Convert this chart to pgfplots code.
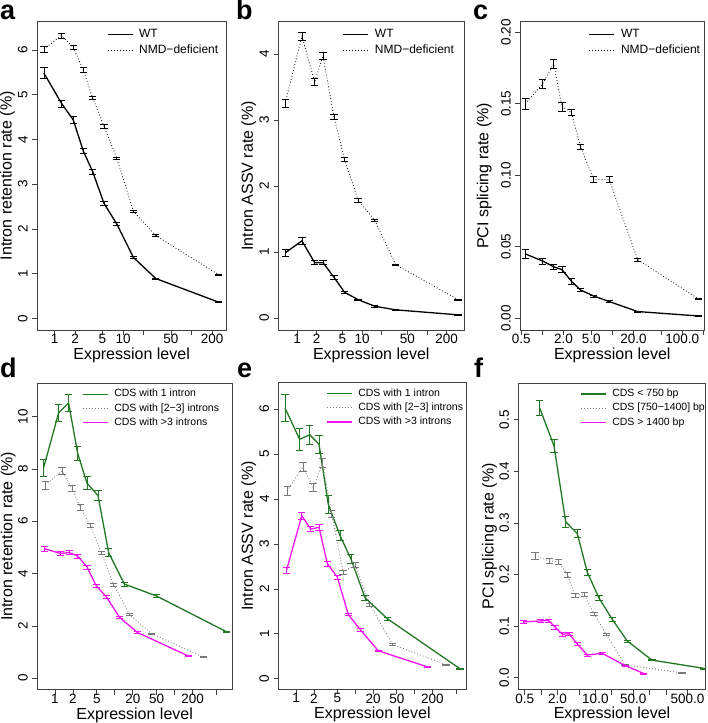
\documentclass[border=0pt]{standalone}
\usepackage{fontspec}
\setmainfont{Liberation Sans}
\usepackage{pgfplots}
\pgfplotsset{compat=1.18}
\definecolor{rgreen}{RGB}{34,120,34}
\definecolor{rmag}{RGB}{240,20,240}
\definecolor{rgray}{RGB}{120,120,120}
\newcommand\tickfont{\fontsize{13.5}{13.5}\selectfont}
\newcommand\labfont{\fontsize{16}{16}\selectfont}
\newcommand\legfontA{\fontsize{12}{12}\selectfont}
\newcommand\legfontB{\fontsize{10.5}{10.5}\selectfont}
\newcommand\panfont{\fontsize{27}{27}\selectfont\bfseries}
\pgfplotsset{
  legend image code/.code={\draw[#1] (0pt,0pt) -- (25pt,0pt);},
  every axis/.append style={
    scale only axis,
    axis line style={draw=black!75, line width=0.7pt},
    tick style={draw=black!75, line width=0.6pt},
    tick align=outside, major tick length=5pt,
    xtick pos=left, ytick pos=left,
    xticklabel style={font=\tickfont, inner sep=0pt, anchor=north, yshift=1pt},
    yticklabel style={font=\tickfont, rotate=90, anchor=south, inner sep=4.4pt},
    xlabel style={font=\labfont, at={(axis description cs:0.5,0)}, anchor=base, yshift=-29.3pt, inner sep=0pt},
    ylabel style={font=\labfont, anchor=base, inner sep=0pt},
    legend cell align=left,
    legend style={draw=none, fill=none, anchor=north west, inner sep=0pt, outer sep=0pt, column sep=6pt},
  },
}
\tikzset{
  wt/.style={black, solid, line width=1.3pt},
  nmd/.style={black, line width=0.8pt, dash pattern=on 0.8pt off 2.2pt},
  sgreen/.style={rgreen, solid, line width=1.3pt},
  sgray/.style={rgray, line width=0.9pt, dash pattern=on 0.8pt off 2.2pt},
  smag/.style={rmag, solid, line width=1.3pt},
}
\begin{document}
\begin{tikzpicture}
\useasboundingbox (0pt,0pt) rectangle (708pt,723pt);
% ---------------- a
\begin{axis}[xmode=log, anchor=south west, at={(37.2pt,393pt)}, width=188.8pt, height=308.3pt,
  xmin=0.558, xmax=319, ymin=-0.26, ymax=6.63,
  xtick={1,2,5,10,20,50,100,200}, xticklabels={1,2,5,10,,50,,200},
  ytick={0,1,2,3,4,5,6}, yticklabels={0,1,2,3,4,5,6},
  xlabel={Expression level},
  ylabel={Intron retention rate (\%)}, ylabel style={at={(axis description cs:-0.1353,0.5)}},
  legend style={font=\legfontA, row sep=5pt, nodes={inner sep=0pt, text height=8.6pt, text depth=2.4pt}, at={(axis description cs:0.369,0.977)}}]
\addplot[wt, mark=none, error bars/.cd, y dir=both, y explicit, error bar style={solid, line width=0.6pt}, error mark options={solid, rotate=90, mark size=3.6pt, line width=0.6pt}] table[x index=0,y index=1,y error index=2]{
0.70 5.48 0.12
1.27 4.80 0.08
1.87 4.44 0.07
2.63 3.74 0.06
3.60 3.28 0.05
5.27 2.57 0.04
8.1 2.11 0.03
14.2 1.36 0.02
30.1 0.89 0.01
246 0.365 0.01
};
\addlegendentry{WT}
\addplot[nmd, mark=none, error bars/.cd, y dir=both, y explicit, error bar style={solid, line width=0.6pt}, error mark options={solid, rotate=90, mark size=3.6pt, line width=0.6pt}] table[x index=0,y index=1,y error index=2]{
0.70 6.02 0.07
1.27 6.32 0.06
1.87 6.06 0.05
2.63 5.55 0.05
3.60 4.93 0.04
5.27 4.29 0.04
8.1 3.58 0.03
14.2 2.39 0.03
30.1 1.85 0.02
246 0.98 0.01
};
\addlegendentry{NMD−deficient}
\end{axis}
% ---------------- b
\begin{axis}[xmode=log, anchor=south west, at={(278.5pt,393pt)}, width=185.5pt, height=308.3pt,
  xmin=0.519, xmax=371, ymin=-0.18, ymax=4.49,
  xtick={1,2,5,10,20,50,100,200}, xticklabels={1,2,5,10,,50,,200},
  ytick={0,1,2,3,4}, yticklabels={0,1,2,3,4},
  xlabel={Expression level},
  ylabel={Intron ASSV rate (\%)}, ylabel style={at={(axis description cs:-0.1375,0.5)}},
  legend style={font=\legfontA, row sep=5pt, nodes={inner sep=0pt, text height=8.6pt, text depth=2.4pt}, at={(axis description cs:0.346,0.977)}}]
\addplot[wt, mark=none, error bars/.cd, y dir=both, y explicit, error bar style={solid, line width=0.6pt}, error mark options={solid, rotate=90, mark size=3.6pt, line width=0.6pt}] table[x index=0,y index=1,y error index=2]{
0.66 0.99 0.05
1.19 1.17 0.05
1.87 0.84 0.03
2.51 0.84 0.03
3.7 0.62 0.03
5.4 0.39 0.02
8.7 0.28 0.01
15.7 0.18 0.01
33 0.125 0.005
300 0.05 0.003
};
\addlegendentry{WT}
\addplot[nmd, mark=none, error bars/.cd, y dir=both, y explicit, error bar style={solid, line width=0.6pt}, error mark options={solid, rotate=90, mark size=3.6pt, line width=0.6pt}] table[x index=0,y index=1,y error index=2]{
0.66 3.26 0.06
1.19 4.27 0.06
1.87 3.58 0.05
2.51 3.97 0.05
3.7 3.05 0.04
5.4 2.40 0.03
8.7 1.79 0.03
15.7 1.48 0.02
33 0.81 0.01
300 0.28 0.01
};
\addlegendentry{NMD−deficient}
\end{axis}
% ---------------- c
\begin{axis}[xmode=log, anchor=south west, at={(520.3pt,393pt)}, width=184pt, height=308.3pt,
  xmin=0.483, xmax=206, ymin=-0.0082, ymax=0.2074,
  xtick={0.5,1,2,5,10,20,50,100,200}, xticklabels={0.5,,2.0,5.0,,20.0,,100.0,},
  ytick={0,0.05,0.1,0.15,0.2}, yticklabels={0.00,0.05,0.10,0.15,0.20},
  xlabel={Expression level},
  ylabel={PCI splicing rate (\%)}, ylabel style={at={(axis description cs:-0.174,0.5)}},
  legend style={font=\legfontA, row sep=5pt, nodes={inner sep=0pt, text height=8.6pt, text depth=2.4pt}, at={(axis description cs:0.372,0.977)}}]
\addplot[wt, mark=none, error bars/.cd, y dir=both, y explicit, error bar style={solid, line width=0.6pt}, error mark options={solid, rotate=90, mark size=3.6pt, line width=0.6pt}] table[x index=0,y index=1,y error index=2]{
0.57 0.045 0.003
1.01 0.040 0.002
1.45 0.036 0.002
1.9 0.034 0.002
2.59 0.026 0.002
3.5 0.0198 0.0012
5.4 0.0156 0.0008
9.0 0.0117 0.0006
23 0.0047 0.0004
170 0.0016 0.0003
};
\addlegendentry{WT}
\addplot[nmd, mark=none, error bars/.cd, y dir=both, y explicit, error bar style={solid, line width=0.6pt}, error mark options={solid, rotate=90, mark size=3.6pt, line width=0.6pt}] table[x index=0,y index=1,y error index=2]{
0.57 0.150 0.004
1.01 0.164 0.003
1.45 0.178 0.003
1.9 0.148 0.003
2.59 0.144 0.002
3.5 0.120 0.002
5.4 0.097 0.002
9.0 0.097 0.002
23 0.041 0.001
170 0.0135 0.0005
};
\addlegendentry{NMD−deficient}
\end{axis}
% ---------------- d
\begin{axis}[xmode=log, anchor=south west, at={(37.3pt,33.3pt)}, width=194.7pt, height=306.4pt,
  xmin=0.506, xmax=912, ymin=-0.44, ymax=11.27,
  xtick={1,2,5,10,20,50,100,200,500}, xticklabels={1,2,5,,20,50,,200,},
  ytick={0,2,4,6,8,10}, yticklabels={0,2,4,6,8,10},
  xlabel={Expression level},
  ylabel={Intron retention rate (\%)}, ylabel style={at={(axis description cs:-0.128,0.5)}},
  legend style={font=\legfontB, row sep=4.5pt, nodes={inner sep=0pt, text height=7.5pt, text depth=2.2pt}, at={(axis description cs:0.2296,0.980)}}]
\addplot[sgreen, mark=none, error bars/.cd, y dir=both, y explicit, error bar style={solid, line width=0.6pt}, error mark options={solid, rotate=90, mark size=3.6pt, line width=0.6pt}] table[x index=0,y index=1,y error index=2]{
0.647 8.05 0.33
1.15 10.14 0.32
1.69 10.52 0.32
2.39 8.6 0.28
3.43 7.45 0.25
5.24 6.98 0.2
7.9 4.8 0.15
14.4 3.6 0.07
50 3.14 0.05
745 1.77 0.03
};
\addlegendentry{CDS with 1 intron}
\addplot[sgray, mark=none, error bars/.cd, y dir=both, y explicit, error bar style={solid, line width=0.6pt}, error mark options={solid, rotate=90, mark size=3.6pt, line width=0.6pt}] table[x index=0,y index=1,y error index=2]{
0.69 7.38 0.15
1.31 7.92 0.13
1.92 7.25 0.12
2.65 6.53 0.1
3.89 5.84 0.08
5.94 4.80 0.06
9.56 3.58 0.05
17.7 2.43 0.04
41 1.71 0.02
302 0.80 0.02
};
\addlegendentry{CDS with [2−3] introns}
\addplot[smag, mark=none, error bars/.cd, y dir=both, y explicit, error bar style={solid, line width=0.6pt}, error mark options={solid, rotate=90, mark size=3.6pt, line width=0.6pt}] table[x index=0,y index=1,y error index=2]{
0.663 4.95 0.1
1.23 4.77 0.08
1.73 4.80 0.08
2.39 4.67 0.08
3.43 4.25 0.08
4.9 3.53 0.07
7.2 3.11 0.06
12.1 2.32 0.05
23.8 1.75 0.04
169 0.85 0.03
};
\addlegendentry{CDS with >3 introns}
\end{axis}
% ---------------- e
\begin{axis}[xmode=log, anchor=south west, at={(278.7pt,33.6pt)}, width=187.3pt, height=306.7pt,
  xmin=0.51, xmax=736, ymin=-0.24, ymax=6.59,
  xtick={1,2,5,10,20,50,100,200,500}, xticklabels={1,2,5,,20,50,,200,},
  ytick={0,1,2,3,4,5,6}, yticklabels={0,1,2,3,4,5,6},
  xlabel={Expression level},
  ylabel={Intron ASSV rate (\%)}, ylabel style={at={(axis description cs:-0.138,0.5)}},
  legend style={font=\legfontB, row sep=4.5pt, nodes={inner sep=0pt, text height=7.5pt, text depth=2.2pt}, at={(axis description cs:0.2525,0.980)}}]
\addplot[sgreen, mark=none, error bars/.cd, y dir=both, y explicit, error bar style={solid, line width=0.6pt}, error mark options={solid, rotate=90, mark size=3.6pt, line width=0.6pt}] table[x index=0,y index=1,y error index=2]{
0.65 6.03 0.3
1.15 5.33 0.25
1.70 5.43 0.22
2.44 5.22 0.2
3.5 3.88 0.2
5.5 3.19 0.12
8.4 2.67 0.1
14.6 1.8 0.06
35 1.33 0.03
583 0.22 0.02
};
\addlegendentry{CDS with 1 intron}
\addplot[sgray, mark=none, error bars/.cd, y dir=both, y explicit, error bar style={solid, line width=0.6pt}, error mark options={solid, rotate=90, mark size=3.6pt, line width=0.6pt}] table[x index=0,y index=1,y error index=2]{
0.71 4.18 0.1
1.31 4.72 0.1
1.94 4.26 0.08
2.8 4.80 0.1
4.0 3.67 0.07
6.2 2.37 0.05
9.9 2.54 0.05
17.5 1.65 0.03
42.7 0.76 0.02
338 0.31 0.01
};
\addlegendentry{CDS with [2−3] introns}
\addplot[smag, mark=none, error bars/.cd, y dir=both, y explicit, error bar style={solid, line width=0.6pt}, error mark options={solid, rotate=90, mark size=3.6pt, line width=0.6pt}] table[x index=0,y index=1,y error index=2]{
0.69 2.41 0.07
1.25 3.63 0.08
1.77 3.33 0.06
2.44 3.37 0.06
3.37 2.56 0.06
4.97 2.26 0.05
7.6 1.43 0.03
12.3 1.08 0.03
24.4 0.62 0.02
166 0.26 0.01
};
\addlegendentry{CDS with >3 introns}
\end{axis}
% ---------------- f
\begin{axis}[xmode=log, anchor=south west, at={(518.7pt,33.5pt)}, width=186.6pt, height=306.5pt,
  xmin=0.387, xmax=1059, ymin=-0.023, ymax=0.571,
  xtick={0.5,1,2,5,10,20,50,100,200,500}, xticklabels={0.5,,2.0,,10.0,,50.0,,,500.0},
  ytick={0,0.1,0.2,0.3,0.4,0.5}, yticklabels={0.0,0.1,0.2,0.3,0.4,0.5},
  xlabel={Expression level},
  ylabel={PCI splicing rate (\%)}, ylabel style={at={(axis description cs:-0.135,0.5)}},
  legend style={font=\legfontB, row sep=4.5pt, nodes={inner sep=0pt, text height=7.5pt, text depth=2.2pt}, at={(axis description cs:0.3285,0.980)}}]
\addplot[sgreen, mark=none, error bars/.cd, y dir=both, y explicit, error bar style={solid, line width=0.6pt}, error mark options={solid, rotate=90, mark size=3.6pt, line width=0.6pt}] table[x index=0,y index=1,y error index=2]{
0.94 0.523 0.015
1.73 0.449 0.012
2.84 0.302 0.01
4.66 0.279 0.008
7.1 0.204 0.006
11.7 0.154 0.005
20.5 0.113 0.003
38.7 0.071 0.002
110 0.034 0.001
1000 0.018 0.001
};
\addlegendentry{CDS < 750 bp}
\addplot[sgray, mark=none, error bars/.cd, y dir=both, y explicit, error bar style={solid, line width=0.6pt}, error mark options={solid, rotate=90, mark size=3.6pt, line width=0.6pt}] table[x index=0,y index=1,y error index=2]{
0.77 0.236 0.006
1.44 0.226 0.005
2.08 0.225 0.005
3.05 0.200 0.005
4.2 0.160 0.004
6.2 0.161 0.004
9.4 0.124 0.003
15.9 0.084 0.002
35 0.025 0.001
394 0.009 0.001
};
\addlegendentry{CDS [750−1400] bp}
\addplot[smag, mark=none, error bars/.cd, y dir=both, y explicit, error bar style={solid, line width=0.6pt}, error mark options={solid, rotate=90, mark size=3.6pt, line width=0.6pt}] table[x index=0,y index=1,y error index=2]{
0.48 0.108 0.003
0.99 0.110 0.003
1.36 0.111 0.003
1.81 0.098 0.004
2.46 0.084 0.003
3.27 0.085 0.003
4.66 0.065 0.003
7.1 0.044 0.002
13.4 0.047 0.002
36 0.023 0.001
78 0.008 0.001
};
\addlegendentry{CDS > 1400 bp}
\end{axis}
% panel letters
\node[anchor=base west, inner sep=0pt, font=\panfont] at (0pt,703pt) {a};
\node[anchor=base west, inner sep=0pt, font=\panfont] at (236pt,703pt) {b};
\node[anchor=base west, inner sep=0pt, font=\panfont] at (473pt,703pt) {c};
\node[anchor=base west, inner sep=0pt, font=\panfont] at (0pt,345pt) {d};
\node[anchor=base west, inner sep=0pt, font=\panfont] at (237pt,345pt) {e};
\node[anchor=base west, inner sep=0pt, font=\panfont] at (474pt,345pt) {f};
\end{tikzpicture}
\end{document}
